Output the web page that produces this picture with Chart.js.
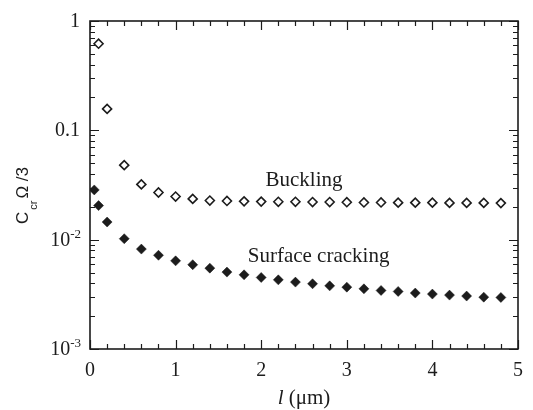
<!DOCTYPE html>
<html>
<head>
<meta charset="utf-8">
<script src="https://cdn.jsdelivr.net/npm/chart.js@4/dist/chart.umd.min.js"></script>
<style>
  html, body { margin: 0; padding: 0; background: #fff; }
  #wrap { width: 533px; height: 410px; }
</style>
</head>
<body>
<div id="wrap"><canvas id="chart" width="533" height="410"></canvas></div>
<script>
// Critical concentration vs film length, two failure modes (log y)

const lenBuckling = [0.1, 0.2, 0.4, 0.6, 0.8, 1.0, 1.2, 1.4, 1.6, 1.8, 2.0, 2.2, 2.4,
  2.6, 2.8, 3.0, 3.2, 3.4, 3.6, 3.8, 4.0, 4.2, 4.4, 4.6, 4.8];
const cBuckling = [0.62, 0.157, 0.048, 0.032, 0.027, 0.0248, 0.0236, 0.0228, 0.0226,
  0.0224, 0.0223, 0.0222, 0.0222, 0.0221, 0.0221, 0.0220, 0.0219, 0.0219, 0.0218,
  0.0218, 0.0218, 0.0217, 0.0217, 0.0217, 0.0216];

const lenCracking = [0.05, 0.1, 0.2, 0.4, 0.6, 0.8, 1.0, 1.2, 1.4, 1.6, 1.8, 2.0, 2.2,
  2.4, 2.6, 2.8, 3.0, 3.2, 3.4, 3.6, 3.8, 4.0, 4.2, 4.4, 4.6, 4.8];
const cCracking = [0.0285, 0.0205, 0.0145, 0.0102, 0.0082, 0.0072, 0.0064, 0.0059,
  0.00549, 0.00505, 0.00477, 0.00451, 0.00429, 0.00409, 0.00395, 0.00378, 0.00368,
  0.00355, 0.00343, 0.00336, 0.00325, 0.00318, 0.00311, 0.00305, 0.00298, 0.00296];

const xTicks = [0, 1, 2, 3, 4, 5];
const yDecades = [1, 0.1, 0.01, 0.001];
// label text + anchor in data units
const notes = [
  { text: 'Buckling', x: 2.5, y: 0.031 },
  { text: 'Surface cracking', x: 2.67, y: 0.0063 },
];

const INK = '#1c1c1c';
const SERIF = '"Liberation Serif", "DejaVu Serif", serif';
const SANS = '"Liberation Sans", Arial, sans-serif';

const toPts = (xs, ys) => xs.map((x, i) => ({ x, y: ys[i] }));

// --- frame, inward ticks, custom labels ---
const decor = {
  id: 'decor',
  afterDraw(chart) {
    const { ctx, chartArea: a, scales: { x, y } } = chart;
    ctx.save();
    ctx.strokeStyle = INK;
    ctx.lineWidth = 1.6;
    ctx.strokeRect(a.left, a.top, a.right - a.left, a.bottom - a.top);

    ctx.lineWidth = 1.2;
    ctx.beginPath();
    for (let i = 0; i <= 25; i++) {
      const v = i * 0.2;
      const px = Math.round(x.getPixelForValue(v)) + 0.5;
      const len = i % 5 === 0 ? 9 : 5;
      ctx.moveTo(px, a.bottom); ctx.lineTo(px, a.bottom - len);
      ctx.moveTo(px, a.top); ctx.lineTo(px, a.top + len);
    }
    for (let e = -3; e <= 0; e++) {
      for (let m = 1; m <= 9; m++) {
        const v = m * Math.pow(10, e);
        if (v > 1.0001) break;
        const py = Math.round(y.getPixelForValue(v)) + 0.5;
        const len = m === 1 ? 9 : 5;
        ctx.moveTo(a.left, py); ctx.lineTo(a.left + len, py);
        ctx.moveTo(a.right, py); ctx.lineTo(a.right - len, py);
      }
    }
    ctx.stroke();

    // y tick labels
    ctx.fillStyle = INK;
    const rx = a.left - 10;
    for (const v of yDecades) {
      const py = y.getPixelForValue(v);
      if (v >= 0.1) {
        ctx.font = '20px ' + SERIF;
        ctx.textAlign = 'right';
        ctx.textBaseline = 'alphabetic';
        ctx.fillText(v === 1 ? '1' : '0.1', rx, py + 6);
      } else {
        const sup = '-' + Math.round(-Math.log10(v));
        ctx.font = '13px ' + SERIF;
        ctx.textAlign = 'right';
        ctx.textBaseline = 'alphabetic';
        const sw = ctx.measureText(sup).width;
        ctx.fillText(sup, rx + 1, py - 2);
        ctx.font = '20px ' + SERIF;
        ctx.fillText('10', rx + 1 - sw, py + 6);
      }
    }

    // y title: C_cr Ω /3
    ctx.save();
    ctx.translate(28, 224);
    ctx.rotate(-Math.PI / 2);
    ctx.textAlign = 'left';
    ctx.textBaseline = 'alphabetic';
    ctx.font = '17px ' + SANS;
    ctx.fillText('C', 0, 0);
    let cx = ctx.measureText('C').width + 2;
    ctx.font = '11px ' + SANS;
    ctx.fillText('cr', cx, 9);
    cx += ctx.measureText('cr').width + 2;
    ctx.font = '17px ' + SANS;
    ctx.fillText('\u03A9 /3', cx, 0);
    ctx.restore();

    // x title: l (μm)
    ctx.textBaseline = 'alphabetic';
    ctx.textAlign = 'left';
    ctx.font = 'italic 21px ' + SERIF;
    const w1 = ctx.measureText('l').width;
    ctx.font = '21px ' + SERIF;
    const w2 = ctx.measureText(' (\u03BCm)').width;
    const cxT = (a.left + a.right) / 2 - (w1 + w2) / 2;
    ctx.font = 'italic 21px ' + SERIF;
    ctx.fillText('l', cxT, 404);
    ctx.font = '21px ' + SERIF;
    ctx.fillText(' (\u03BCm)', cxT + w1, 404);

    // curve labels
    ctx.font = '21px ' + SERIF;
    ctx.textAlign = 'center';
    for (const n of notes) {
      ctx.fillText(n.text, x.getPixelForValue(n.x), y.getPixelForValue(n.y));
    }
    ctx.restore();
  }
};

new Chart(document.getElementById('chart'), {
  type: 'scatter',
  data: {
    datasets: [
      {
        label: 'Buckling',
        data: toPts(lenBuckling, cBuckling),
        pointStyle: 'rectRot',
        pointRadius: 4.5,
        borderWidth: 1.6,
        borderColor: INK,
        backgroundColor: '#fff',
      },
      {
        label: 'Surface cracking',
        data: toPts(lenCracking, cCracking),
        pointStyle: 'rectRot',
        pointRadius: 5,
        borderWidth: 0.5,
        borderColor: INK,
        backgroundColor: INK,
      },
    ]
  },
  options: {
    responsive: false,
    animation: false,
    events: [],
    layout: { padding: { top: 21, right: 6, left: 0, bottom: 0 } },
    plugins: { legend: { display: false }, tooltip: { enabled: false } },
    scales: {
      x: {
        type: 'linear', min: 0, max: 5,
        afterBuildTicks: (s) => { s.ticks = xTicks.map(v => ({ value: v })); },
        ticks: { color: INK, font: { family: SERIF, size: 20 }, padding: 10, maxRotation: 0 },
        grid: { display: false, drawTicks: false },
        border: { display: false },
        afterFit: (s) => { s.height = 61; },
      },
      y: {
        type: 'logarithmic', min: 0.001, max: 1,
        ticks: { display: false },
        grid: { display: false, drawTicks: false },
        border: { display: false },
        afterFit: (s) => { s.width = 90; },
      }
    }
  },
  plugins: [decor]
});
</script>
</body>
</html>
